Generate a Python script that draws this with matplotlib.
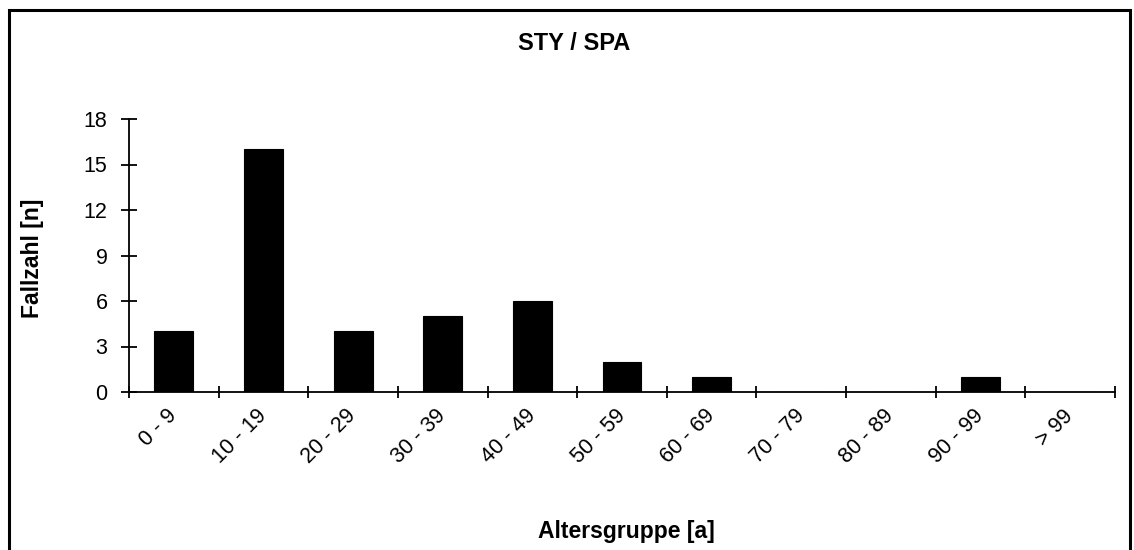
import numpy as np
import matplotlib.pyplot as plt
from matplotlib.patches import Rectangle
from matplotlib.transforms import ScaledTranslation

# Data
age_groups = ["0 - 9", "10 - 19", "20 - 29", "30 - 39", "40 - 49", "50 - 59",
              "60 - 69", "70 - 79", "80 - 89", "90 - 99", "> 99"]
cases = [4, 16, 4, 5, 6, 2, 1, 0, 0, 1, 0]
y_ticks = [0, 3, 6, 9, 12, 15, 18]

plt.rcParams["font.family"] = ["Liberation Sans", "DejaVu Sans"]

fig = plt.figure(figsize=(11.34, 5.5), dpi=100)
ax = fig.add_axes([129 / 1134, 1 - 392 / 550, (1115 - 129) / 1134, (392 - 119) / 550])

x = np.arange(len(age_groups))
ax.bar(x, cases, width=0.435, color="black", edgecolor="black", linewidth=0.8)

ax.set_xlim(-0.5, len(age_groups) - 0.5)
ax.set_ylim(0, 18)
ax.set_yticks(y_ticks)
ax.set_yticklabels([str(v) for v in y_ticks], fontsize=15.5)

# category labels at centers, tick marks at boundaries (Excel style)
ax.set_xticks(x)
ax.set_xticklabels(age_groups, rotation=45, ha="right", va="center",
                   rotation_mode="anchor", fontsize=15.5)
shift = ScaledTranslation(-0.15, 0, fig.dpi_scale_trans)
for lbl in ax.get_xticklabels():
    lbl.set_transform(lbl.get_transform() + shift)
ax.set_xticks(np.arange(len(age_groups) + 1) - 0.5, minor=True)
ax.tick_params(axis="x", which="major", length=0, pad=15)
ax.tick_params(axis="x", which="minor", direction="inout", length=8.5, width=1.3)
ax.tick_params(axis="y", direction="inout", length=11, width=1.3, pad=10)

for s in ["top", "right"]:
    ax.spines[s].set_visible(False)
for s in ["left", "bottom"]:
    ax.spines[s].set_linewidth(1.3)

fig.text(33 / 1134, 1 - 258 / 550, "Fallzahl [n]", fontsize=16.5, fontweight="bold",
         rotation=90, ha="center", va="center")
fig.text(574 / 1134, 1 - 50 / 550, "STY / SPA", fontsize=17, fontweight="bold",
         ha="center", va="baseline")
fig.text(626 / 1134, 1 - 538 / 550, "Altersgruppe [a]", fontsize=16.5, fontweight="bold",
         ha="center", va="baseline")

# outer frame
fig.patches.append(Rectangle((9 / 1134, -0.05), (1130 - 9) / 1134, 1.05 - 10 / 550,
                             transform=fig.transFigure, fill=False,
                             edgecolor="black", linewidth=2.2))

fig.savefig("out.png", dpi=100)
